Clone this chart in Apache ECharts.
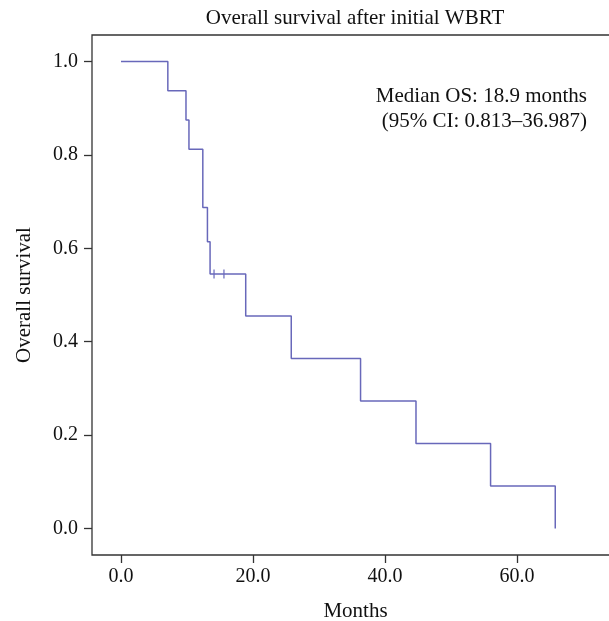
<!DOCTYPE html>
<html><head><meta charset="utf-8">
<script src="https://cdn.jsdelivr.net/npm/echarts@6/dist/echarts.min.js"></script>
<style>html,body{margin:0;padding:0;background:#fff}#c{width:609px;height:621px}</style>
</head><body><div id="c"></div>
<script>
const chartTitle = 'Overall survival after initial WBRT';
const eventTimes = [0, 7.1, 9.85, 10.3, 12.4, 13.1, 13.5, 18.9, 25.8, 36.3, 44.7, 56.0, 65.8];
const survival = [1.0, 0.9375, 0.875, 0.8125, 0.6875, 0.614, 0.545, 0.455, 0.364, 0.273, 0.182, 0.091, 0.0];
const censorTimes = [14.1, 15.6];
const censorSurvival = [0.545, 0.545];
const xTicks = [0, 20, 40, 60];
const yTicks = [0, 0.2, 0.4, 0.6, 0.8, 1.0];
const annotationLines = ['Median OS: 18.9 months', '(95% CI: 0.813\u201336.987)'];

const FONT = 'Liberation Serif';
const LINE = '#6868ba';
const chart = echarts.init(document.getElementById('c'), null, {renderer: 'canvas'});
const kmData = eventTimes.map((t, i) => [t, survival[i]]);
const censData = censorTimes.map((t, i) => [t, censorSurvival[i]]);

chart.setOption({
  animation: false,
  backgroundColor: '#fff',
  title: {
    text: chartTitle, left: 350, top: 3, textAlign: 'center',
    textStyle: {fontFamily: FONT, fontWeight: 'normal', fontSize: 21, color: '#111'}
  },
  grid: {left: 92, top: 35, right: -10, bottom: 66, show: true, containLabel: false, outerBoundsMode: 'none',
         borderColor: '#333', borderWidth: 1.3, backgroundColor: 'transparent'},
  xAxis: {
    type: 'value', min: -4.39, max: -4.39 + 527 / 6.6,
    name: 'Months', nameLocation: 'middle', nameGap: 46,
    nameTextStyle: {fontFamily: FONT, fontSize: 21, color: '#111'},
    axisLine: {show: false, onZero: false},
    axisTick: {show: true, length: 8, customValues: xTicks, lineStyle: {color: '#333', width: 1.3}},
    axisLabel: {customValues: xTicks, margin: 12, formatter: v => v.toFixed(1), fontFamily: FONT, fontSize: 20, color: '#111'},
    splitLine: {show: false}
  },
  yAxis: {
    type: 'value', min: -0.057, max: 1.057,
    name: 'Overall survival', nameLocation: 'middle', nameGap: 57, nameRotate: 90,
    nameTextStyle: {fontFamily: FONT, fontSize: 21, color: '#111'},
    axisLine: {show: false, onZero: false},
    axisTick: {show: true, length: 8, customValues: yTicks, lineStyle: {color: '#333', width: 1.3}},
    axisLabel: {customValues: yTicks, margin: 14, formatter: v => v.toFixed(1), fontFamily: FONT, fontSize: 20, color: '#111'},
    splitLine: {show: false}
  },
  series: [
    {type: 'line', data: kmData, step: 'end', symbol: 'none', lineStyle: {color: LINE, width: 1.5}},
    {type: 'scatter', data: censData, symbol: 'rect', symbolSize: [1.5, 9], itemStyle: {color: LINE}}
  ],
  graphic: [
    {type: 'text', right: 22, top: 86, style: {text: annotationLines[0], fontFamily: FONT, fontSize: 21, fill: '#111', textAlign: 'right'}},
    {type: 'text', right: 22, top: 111, style: {text: annotationLines[1], fontFamily: FONT, fontSize: 21, fill: '#111', textAlign: 'right'}}
  ]
});
</script></body></html>
